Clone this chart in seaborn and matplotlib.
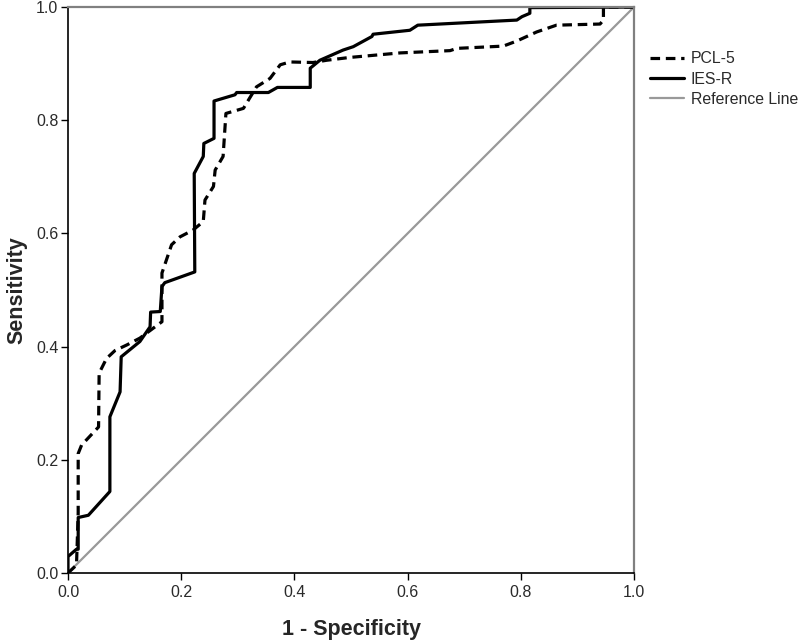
import pandas as pd
import matplotlib
matplotlib.use("Agg")
import matplotlib.pyplot as plt
import seaborn as sns

# ROC coordinates (1 - specificity, sensitivity)
pcl5_fpr = [0.0, 0.015, 0.018, 0.018, 0.024, 0.054, 0.055, 0.068, 0.083, 0.104, 0.127,
            0.166, 0.166, 0.183, 0.198, 0.221, 0.239, 0.242, 0.257, 0.260, 0.274, 0.279,
            0.310, 0.319, 0.333, 0.357, 0.375, 0.392, 0.433, 0.457, 0.498, 0.587, 0.675,
            0.687, 0.769, 0.793, 0.828, 0.863, 0.940, 0.946, 0.946, 0.946, 1.0]
pcl5_tpr = [0.0, 0.014, 0.106, 0.211, 0.226, 0.258, 0.353, 0.379, 0.393, 0.403, 0.415,
            0.444, 0.530, 0.580, 0.594, 0.606, 0.621, 0.659, 0.683, 0.712, 0.736, 0.812,
            0.821, 0.836, 0.859, 0.874, 0.898, 0.903, 0.902, 0.906, 0.911, 0.919, 0.923,
            0.927, 0.931, 0.940, 0.956, 0.968, 0.970, 0.977, 0.992, 1.0, 1.0]

iesr_fpr = [0.0, 0.0, 0.015, 0.018, 0.018, 0.036, 0.074, 0.074, 0.092, 0.094, 0.127,
            0.145, 0.146, 0.163, 0.166, 0.171, 0.224, 0.223, 0.239, 0.240, 0.258, 0.258,
            0.295, 0.298, 0.354, 0.370, 0.428, 0.428, 0.445, 0.486, 0.504, 0.537, 0.539,
            0.604, 0.618, 0.793, 0.802, 0.816, 0.816, 1.0]
iesr_tpr = [0.0, 0.029, 0.042, 0.042, 0.098, 0.102, 0.144, 0.276, 0.320, 0.382, 0.409,
            0.435, 0.461, 0.462, 0.506, 0.513, 0.532, 0.706, 0.736, 0.759, 0.768, 0.834,
            0.845, 0.849, 0.849, 0.858, 0.858, 0.892, 0.906, 0.924, 0.930, 0.948, 0.952,
            0.959, 0.968, 0.977, 0.983, 0.989, 0.999, 1.0]

ref_fpr = [0.0, 1.0]
ref_tpr = [0.0, 1.0]

ticks = [0.0, 0.2, 0.4, 0.6, 0.8, 1.0]

sns.set_style("ticks")
plt.rcParams['font.family'] = ['Liberation Sans', 'DejaVu Sans']

df = pd.concat([
    pd.DataFrame({'fpr': pcl5_fpr, 'tpr': pcl5_tpr, 'curve': 'PCL-5'}),
    pd.DataFrame({'fpr': iesr_fpr, 'tpr': iesr_tpr, 'curve': 'IES-R'}),
    pd.DataFrame({'fpr': ref_fpr, 'tpr': ref_tpr, 'curve': 'Reference Line'}),
], ignore_index=True)

fig = plt.figure(figsize=(8, 6.42), dpi=100)
ax = fig.add_axes([0.085, 0.1075, 0.7075, 0.8815])

styles = {
    'PCL-5': dict(color='black', lw=2.3, ls=(0, (3.0, 1.8))),
    'IES-R': dict(color='black', lw=2.3, ls='-'),
    'Reference Line': dict(color='#999999', lw=1.6, ls='-'),
}
for name in ['Reference Line', 'IES-R', 'PCL-5']:
    st = styles[name]
    sns.lineplot(data=df[df['curve'] == name], x='fpr', y='tpr', sort=False,
                 estimator=None, ax=ax, color=st['color'], linewidth=st['lw'],
                 linestyle=st['ls'], label=name, legend=False)

ax.set_xlim(0, 1)
ax.set_ylim(0, 1)
ax.set_xticks(ticks)
ax.set_yticks(ticks)
ax.set_xticklabels([f"{t:.1f}" for t in ticks])
ax.set_yticklabels([f"{t:.1f}" for t in ticks])
ax.tick_params(direction='out', length=5, width=1, colors='black',
               labelsize=11.5, labelcolor='#2a2a2a', pad=2)
ax.tick_params(axis='x', pad=4)
ax.set_xlabel("1 - Specificity", fontsize=15.5, fontweight='bold', labelpad=13)
ax.set_ylabel("Sensitivity", fontsize=15.5, fontweight='bold', labelpad=6)

for side in ['left', 'bottom']:
    ax.spines[side].set_color('black')
    ax.spines[side].set_linewidth(1.2)
for side in ['top', 'right']:
    ax.spines[side].set_visible(True)
    ax.spines[side].set_color('#808080')
    ax.spines[side].set_linewidth(1.6)

handles, labels = ax.get_legend_handles_labels()
order = [labels.index(n) for n in ['PCL-5', 'IES-R', 'Reference Line']]
leg = fig.legend([handles[i] for i in order], [labels[i] for i in order],
                 loc='upper left', bbox_to_anchor=(0.805, 0.93), frameon=False,
                 fontsize=11.4, handlelength=2.1, handletextpad=0.45,
                 labelspacing=0.34, borderaxespad=0)
for t in leg.get_texts():
    t.set_color('#2a2a2a')

fig.savefig("out.png", dpi=100)
